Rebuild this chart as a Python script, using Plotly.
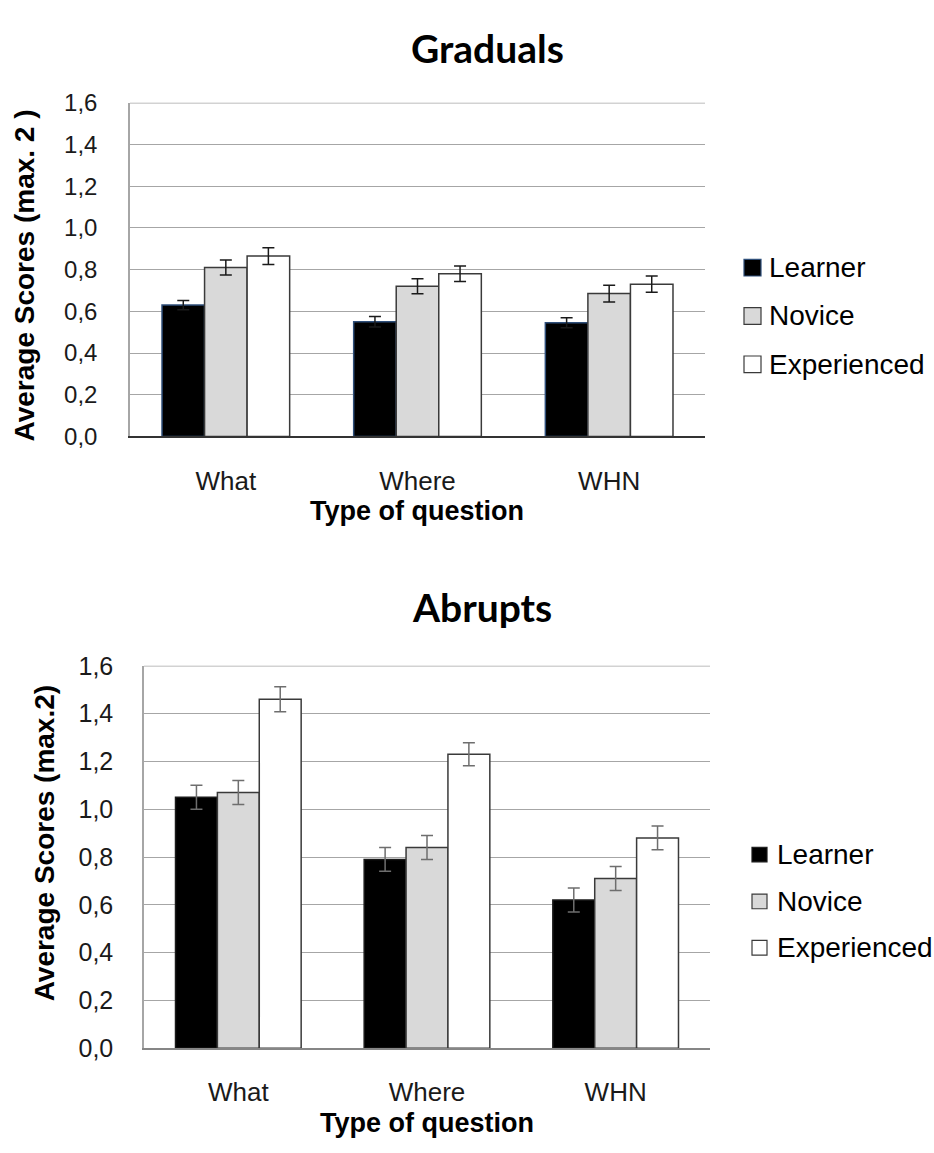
import plotly.graph_objects as go

# Question types on the category axis
categories = ["What", "Where", "WHN"]
groups = ["Learner", "Novice", "Experienced"]

# Graduals: mean scores and standard errors
gradual_learner = [0.63, 0.55, 0.545]
gradual_novice = [0.81, 0.72, 0.685]
gradual_experienced = [0.865, 0.78, 0.73]
gradual_learner_err = [0.022, 0.025, 0.024]
gradual_novice_err = [0.036, 0.036, 0.040]
gradual_experienced_err = [0.040, 0.037, 0.039]

# Abrupts: mean scores and standard errors
abrupt_learner = [1.05, 0.79, 0.62]
abrupt_novice = [1.07, 0.84, 0.71]
abrupt_experienced = [1.46, 1.23, 0.88]
abrupt_learner_err = [0.050, 0.050, 0.050]
abrupt_novice_err = [0.050, 0.050, 0.050]
abrupt_experienced_err = [0.052, 0.048, 0.050]

y_ticks = [0, 0.2, 0.4, 0.6, 0.8, 1.0, 1.2, 1.4, 1.6]
y_max = 1.6

W, H = 934, 1153
FONT = "Liberation Sans, Arial, sans-serif"
TITLE_FONT = "Lato, Open Sans, sans-serif"


def px(x):
    return x / W


def py(y):
    return 1 - y / H


fills = ["#000000", "#d9d9d9", "#ffffff"]

fig = go.Figure()

panels = [
    dict(
        xa="x", ya="y",
        values=[gradual_learner, gradual_novice, gradual_experienced],
        errors=[gradual_learner_err, gradual_novice_err, gradual_experienced_err],
        outlines=["#2f4f7a", "#3a3a3a", "#3a3a3a"],
        err_color="#1a1a1a",
    ),
    dict(
        xa="x2", ya="y2",
        values=[abrupt_learner, abrupt_novice, abrupt_experienced],
        errors=[abrupt_learner_err, abrupt_novice_err, abrupt_experienced_err],
        outlines=["#1a1a1a", "#3a3a3a", "#3a3a3a"],
        err_color="#6e6e6e",
    ),
]

for p in panels:
    for name, vals, errs, fill, outline in zip(groups, p["values"], p["errors"], fills, p["outlines"]):
        fig.add_trace(go.Bar(
            x=categories, y=vals, name=name, xaxis=p["xa"], yaxis=p["ya"],
            marker=dict(color=fill, line=dict(color=outline, width=1.5)),
            error_y=dict(type="data", array=errs, visible=True,
                         color=p["err_color"], thickness=1.5, width=6),
            showlegend=False,
        ))

axis_common = dict(
    range=[0, y_max], tickvals=y_ticks, tickformat=".1f",
    showgrid=True, gridcolor="#a6a6a6", gridwidth=1.3,
    showline=True, linecolor="#a6a6a6", linewidth=1.5,
    zeroline=False, ticks="", fixedrange=True,
    tickfont=dict(family=FONT, size=24, color="#1a1a1a"),
)
xaxis_common = dict(
    showgrid=False, ticks="", zeroline=False, showline=True, linewidth=2,
    tickfont=dict(family=FONT, size=26, color="#1a1a1a"),
    ticklabelstandoff=20,
)

fig.update_layout(
    width=W, height=H,
    margin=dict(l=0, r=0, t=0, b=0),
    paper_bgcolor="white", plot_bgcolor="white",
    separators=",.",
    barmode="group", bargap=0.334, bargroupgap=0,
    showlegend=False,
    xaxis=dict(domain=[px(130), px(705)], anchor="y", linecolor="#333333", **xaxis_common),
    yaxis=dict(domain=[py(433), py(91)], anchor="x", ticklabelstandoff=26, **axis_common),
    xaxis2=dict(domain=[px(144), px(710)], anchor="y2", linecolor="#868686", **xaxis_common),
    yaxis2=dict(domain=[py(1060), py(668)], anchor="x2", ticklabelstandoff=24, **axis_common),
)
fig.layout.yaxis2.tickfont.size = 25

annotations = [
    dict(text="<b>Graduals</b>", x=px(488), y=py(35), font=dict(family=TITLE_FONT, size=39, color="#000000")),
    dict(text="<b>Abrupts</b>", x=px(482), y=py(608), font=dict(family=TITLE_FONT, size=39, color="#000000")),
    dict(text="<b>Type of question</b>", x=px(417), y=py(509), font=dict(family=FONT, size=27, color="#000000")),
    dict(text="<b>Type of question</b>", x=px(427), y=py(1137), font=dict(family=FONT, size=27, color="#000000")),
    dict(text="<b>Average Scores (max. 2 )</b>", x=px(24), y=py(268), textangle=-90,
         font=dict(family=FONT, size=28, color="#000000")),
    dict(text="<b>Average Scores (max.2)</b>", x=px(44), y=py(850), textangle=-90,
         font=dict(family=FONT, size=28, color="#000000")),
]

shapes = []
# Top gridline along the upper edge of each plot area
for xd, ya in (("x domain", "y"), ("x2 domain", "y2")):
    shapes.append(dict(type="line", xref=xd, yref=ya, x0=0, x1=1, y0=y_max, y1=y_max,
                       line=dict(color="#a6a6a6", width=1.5), layer="below"))

# Legends drawn beside each panel
legend_specs = [
    dict(x0=744, size=17, text_x=767, ys=[260, 309.5, 359], outlines=["#2f4f7a", "#3a3a3a", "#3a3a3a"]),
    dict(x0=752, size=15, text_x=775, ys=[861.5, 909.5, 957], outlines=["#1a1a1a", "#3a3a3a", "#3a3a3a"]),
]
for spec in legend_specs:
    for name, yc, fill, outline in zip(groups, spec["ys"], fills, spec["outlines"]):
        s = spec["size"]
        shapes.append(dict(
            type="rect", xref="paper", yref="paper",
            x0=px(spec["x0"]), x1=px(spec["x0"] + s),
            y0=py(yc + s / 2), y1=py(yc - s / 2),
            fillcolor=fill, line=dict(color=outline, width=1.2),
        ))
        annotations.append(dict(
            text=name, x=px(spec["text_x"]), y=py(yc), xanchor="left",
            font=dict(family=FONT, size=28, color="#000000"),
        ))

for a in annotations:
    a.setdefault("xref", "paper")
    a.setdefault("yref", "paper")
    a.setdefault("showarrow", False)
    a.setdefault("xanchor", "center")
    a.setdefault("yanchor", "middle")

fig.update_layout(annotations=annotations, shapes=shapes)

fig.write_html("out.html")
